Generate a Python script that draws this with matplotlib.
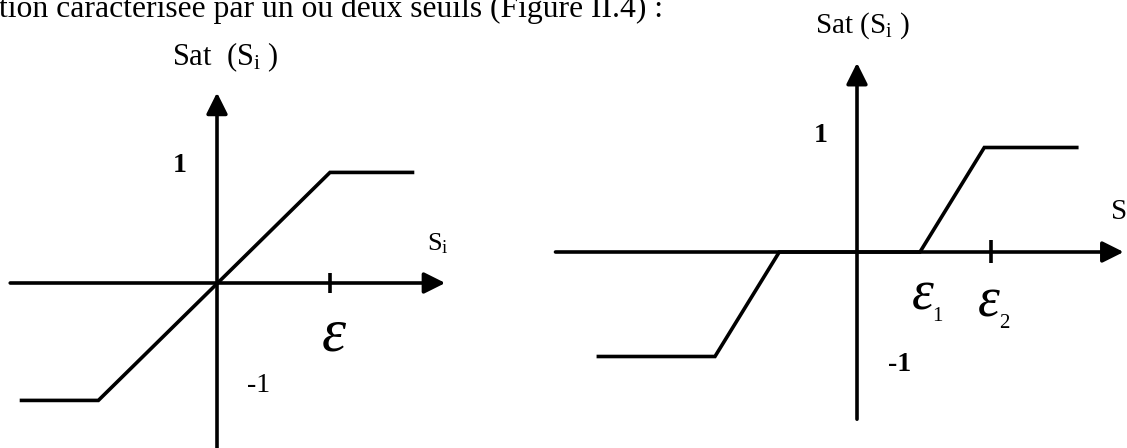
"""Fonctions de saturation a un seuil et a deux seuils (Figure II.4)."""
import matplotlib
matplotlib.use("Agg")
import matplotlib.pyplot as plt

plt.rcParams["font.family"] = ["Liberation Serif", "DejaVu Serif"]
plt.rcParams["mathtext.fontset"] = "custom"
plt.rcParams["mathtext.rm"] = "Liberation Serif"
plt.rcParams["mathtext.it"] = "Liberation Serif:italic"

W, H = 1127, 448

# -- un seuil (unite x = epsilon, unite y = niveau de saturation)
SAT1_X = [-1.73, -1.05, 1.0, 1.73]
SAT1_Y = [-1.03, -1.03, 0.97, 0.97]
AXIS1_X = [-1.83, 2.02]
AXIS1_Y = [-1.45, 1.67]
TICK1_X = 1.0

# -- deux seuils (unite x = epsilon2)
SAT2_X = [-1.93, -1.06, -0.58, 0.47, 0.95, 1.64]
SAT2_Y = [-1.0, -1.0, 0.0, 0.0, 1.0, 1.0]
AXIS2_X = [-2.25, 1.99]
AXIS2_Y = [-1.60, 1.81]
TICK2_X = 1.0

LW = 2.6
ARROW = dict(arrowstyle="-|>", color="black", lw=LW, mutation_scale=32,
             shrinkA=0, shrinkB=0)


def add_axes_px(fig, x0, x1, origin, ux, uy):
    """axes couvrant les pixels x0..x1, toute la hauteur, origine en pixels."""
    ax = fig.add_axes([x0 / W, 0, (x1 - x0) / W, 1])
    ox, oy = origin
    ax.set_xlim((x0 - ox) / ux, (x1 - ox) / ux)
    ax.set_ylim(-(H - oy) / uy, oy / uy)
    ax.axis("off")
    return ax


def draw_axes(ax, xr, yr, tick_x, tick_h):
    ax.annotate("", xy=(xr[1], 0), xytext=(xr[0], 0), arrowprops=ARROW)
    ax.annotate("", xy=(0, yr[1]), xytext=(0, yr[0]), arrowprops=ARROW)
    ax.plot([tick_x, tick_x], tick_h, color="black", lw=LW,
            solid_capstyle="butt")


fig = plt.figure(figsize=(W / 100, H / 100), dpi=100)
fig.text(-0.001, 1 - 17 / H, "tion caractérisée par un ou deux seuils (Figure II.4) :",
         fontsize=22.8, ha="left", va="baseline")

# ---- gauche
ax1 = add_axes_px(fig, 0, 470, (217, 283), 113, 114)
draw_axes(ax1, AXIS1_X, AXIS1_Y, TICK1_X, [-0.09, 0.09])
ax1.plot(SAT1_X, SAT1_Y, color="black", lw=LW, solid_joinstyle="miter")
ax1.set_xlim(-217 / 113, 253 / 113)
ax1.set_ylim(-165 / 114, 283 / 114)
ax1.text(0.07, 1.91, r"Sat  (S$_\mathrm{i}$ )", fontsize=22, ha="center", va="baseline")
ax1.text(-0.33, 0.97, "1", fontsize=20, fontweight="bold", ha="center", va="baseline")
ax1.text(1.86, 0.29, r"S$_\mathrm{i}$", fontsize=19, ha="left", va="baseline")
ax1.text(0.93, -0.59, "ε", fontsize=44, fontstyle="italic", ha="left", va="baseline")
ax1.text(0.37, -0.96, "-1", fontsize=20, ha="center", va="baseline")

# ---- droite
ax2 = add_axes_px(fig, 540, W, (857, 252), 134, 104.5)
draw_axes(ax2, AXIS2_X, AXIS2_Y, TICK2_X, [-0.105, 0.115])
ax2.plot(SAT2_X, SAT2_Y, color="black", lw=LW, solid_joinstyle="miter")
ax2.set_xlim((540 - 857) / 134, (W - 857) / 134)
ax2.set_ylim(-(H - 252) / 104.5, 252 / 104.5)
ax2.text(0.04, 2.10, r"Sat (S$_\mathrm{i}$ )", fontsize=21, ha="center", va="baseline")
ax2.text(-0.27, 1.05, "1", fontsize=20, fontweight="bold", ha="center", va="baseline")
ax2.text(0.32, -1.14, "-1", fontsize=20, fontweight="bold", ha="center", va="baseline")
ax2.text(0.41, -0.55, "ε", fontsize=40, fontstyle="italic", ha="left", va="baseline")
ax2.text(0.56, -0.66, "1", fontsize=15, ha="left", va="baseline")
ax2.text(0.90, -0.62, "ε", fontsize=40, fontstyle="italic", ha="left", va="baseline")
ax2.text(1.06, -0.73, "2", fontsize=15, ha="left", va="baseline")
ax2.text(1.89, 0.31, r"S$_\mathrm{i}$", fontsize=21, ha="left", va="baseline")

fig.savefig("out.png", dpi=100)
